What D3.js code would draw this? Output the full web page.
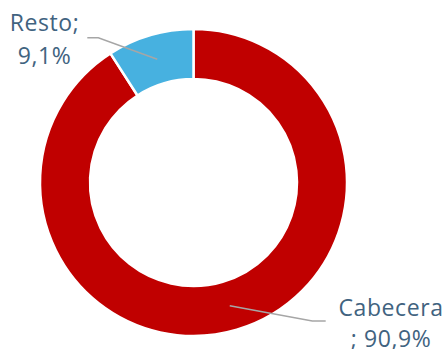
<!DOCTYPE html>
<html>
<head>
<meta charset="utf-8">
<script src="https://cdn.jsdelivr.net/npm/d3@7"></script>
<style>
  body { margin: 0; background: #fff; }
  text { font-family: "Open Sans", sans-serif; }
</style>
</head>
<body>
<script>
var width = 448, height = 349;

// datos
var categorias = ["Cabecera", "Resto"];
var valores = [90.9, 9.1];
var etiquetas = ["Cabecera\n; 90,9%", "Resto;\n9,1%"];
var colores = ["#C00000", "#47B1E0"];

var cx = 193.5, cy = 182.5;
var rOuter = 153.5, rInner = 103.5;

var svg = d3.select("body").append("svg")
    .attr("width", width)
    .attr("height", height);

var g = svg.append("g")
    .attr("transform", "translate(" + cx + "," + cy + ")");

var pie = d3.pie().sort(null).value(function(d) { return d; });
var arcs = pie(valores);

var arc = d3.arc().innerRadius(rInner).outerRadius(rOuter);

g.selectAll("path.slice")
  .data(arcs)
  .enter()
  .append("path")
  .attr("class", "slice")
  .attr("d", arc)
  .attr("fill", function(d, i) { return colores[i]; })
  .attr("stroke", "#fff")
  .attr("stroke-width", 2.5);

// lineas guia: desde el centroide hasta la etiqueta
var guias = [
  { codo: [118.8, 138.5], fin: [132.2, 138.5], texto: [197.5, 133.5] },
  { codo: [-95.2, -144.8], fin: [-106.2, -144.8], texto: [-149, -151.8] }
];

g.selectAll("polyline")
  .data(arcs)
  .enter()
  .append("polyline")
  .attr("points", function(d, i) {
    var c = arc.centroid(d);
    return [c, guias[i].codo, guias[i].fin].map(function(p) { return p.join(","); }).join(" ");
  })
  .attr("fill", "none")
  .attr("stroke", "#A6A6A6")
  .attr("stroke-width", 1.5);

var lbl = g.selectAll("text.lbl")
  .data(arcs)
  .enter()
  .append("text")
  .attr("class", "lbl")
  .attr("text-anchor", "middle")
  .attr("fill", "#41637F")
  .attr("font-size", 23)
  .attr("letter-spacing", 0.6)
  .attr("transform", function(d, i) { return "translate(" + guias[i].texto + ")"; });

lbl.each(function(d, i) {
  var lineas = etiquetas[i].split("\n");
  var t = d3.select(this);
  lineas.forEach(function(l, k) {
    t.append("tspan")
      .attr("x", 0)
      .attr("y", k * (i === 0 ? 30.7 : 33.6))
      .text(l);
  });
});
</script>
</body>
</html>
